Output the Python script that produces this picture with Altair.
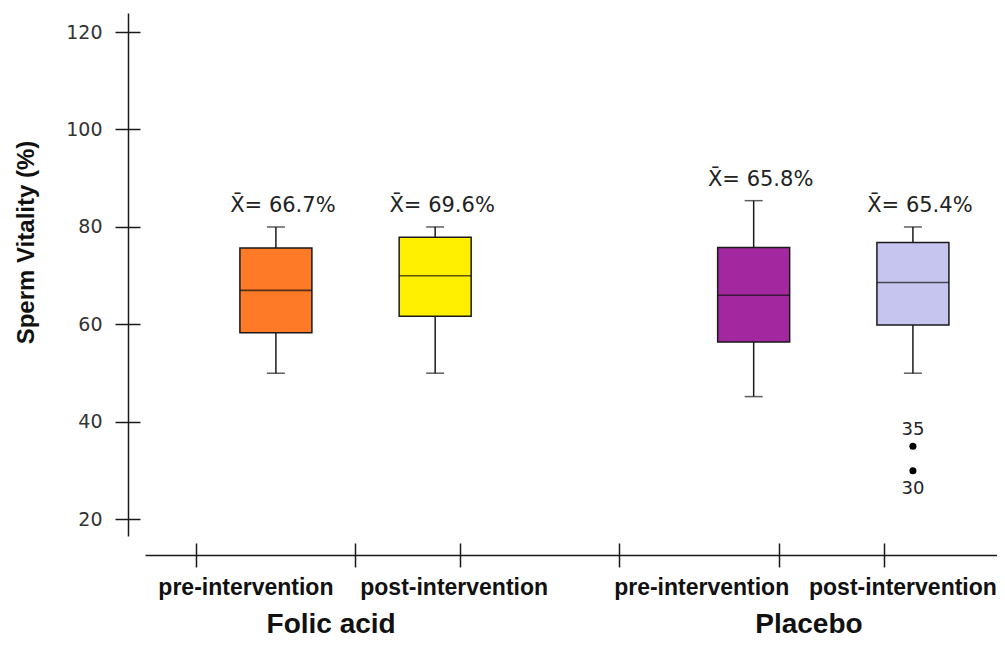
import altair as alt
import pandas as pd

# ---- data ----
groups = ["Folic acid", "Folic acid", "Placebo", "Placebo"]
phases = ["pre-intervention", "post-intervention", "pre-intervention", "post-intervention"]
whisker_low = [50.0, 50.0, 45.2, 50.0]
q1 = [58.3, 61.7, 56.4, 59.9]
median = [67.0, 70.0, 66.0, 68.6]
q3 = [75.7, 77.9, 75.8, 76.8]
whisker_high = [80.0, 80.0, 85.4, 80.0]
means = [66.7, 69.6, 65.8, 65.4]

outlier_group = "Placebo"
outlier_phase = "post-intervention"
outlier_values = [35, 30]
outlier_labels = ["35", "30"]

y_ticks = [20, 40, 60, 80, 100, 120]
y_title = "Sperm Vitality (%)"

# ---- styles ----
fills = ["#FF7A26", "#FFF000", "#A3279F", "#C6C5EF"]
ink = "#1a1a1a"

keys = [f"{g}|{p}" for g, p in zip(groups, phases)]
gap = "gap|"
slots = [keys[0], keys[1], gap, keys[2], keys[3]]

df = pd.DataFrame({
    "slot": keys, "group": groups, "phase": phases,
    "lower": whisker_low, "q1": q1, "median": median, "q3": q3, "upper": whisker_high,
    "mean_label": [f"X\u0304= {m:.1f}%" for m in means],
})
okey = f"{outlier_group}|{outlier_phase}"
odf = pd.DataFrame({"slot": [okey] * len(outlier_values), "value": outlier_values,
                    "label": outlier_labels})
odf["top"] = odf["value"] == odf["value"].max()

xscale = alt.Scale(domain=slots, paddingInner=0, paddingOuter=0.175, align=0.92)
yscale = alt.Scale(domain=[16.6, 123.9], nice=False, zero=False)


def label_axis(value, offset):
    return alt.Axis(orient="bottom", values=[value], labelExpr="split(datum.value, '|')[1]",
                    offset=19, domain=False, ticks=False, grid=False, labelAngle=0,
                    labelFont="Liberation Sans", labelFontWeight="bold", labelFontSize=23,
                    labelColor="#111", labelPadding=21, labelOffset=offset, labelLimit=0,
                    labelOverlap=False, title=None)


def tick_axis(values, band):
    return alt.Axis(orient="bottom", values=values, bandPosition=band, offset=7,
                    domain=False, labels=False, ticks=True, tickSize=24, tickWidth=1.5,
                    tickColor=ink, grid=False, title=None)


axis_x_domain = alt.Axis(orient="bottom", values=[keys[0]],
                         labelExpr="split(datum.value, '|')[1]", offset=19,
                         domain=True, domainColor=ink, domainWidth=1.5, ticks=False,
                         grid=False, labelAngle=0, labelFont="Liberation Sans",
                         labelFontWeight="bold", labelFontSize=23, labelColor="#111",
                         labelPadding=21, labelOffset=-30, labelLimit=0,
                         labelOverlap=False, title=None)

axis_group = alt.Axis(orient="bottom", values=[keys[1], keys[3]],
                      labelExpr="split(datum.value, '|')[0]",
                      offset=19, domain=False, ticks=False, grid=False, labelAngle=0,
                      labelFont="Liberation Sans", labelFontWeight="bold", labelFontSize=28,
                      labelColor="#111", labelPadding=55, labelOffset=-104, labelLimit=0,
                      labelOverlap=False, title=None)

axis_y_left = alt.Axis(orient="left", values=y_ticks, offset=17, domain=True,
                       domainColor=ink, domainWidth=1.5, ticks=True, tickSize=13,
                       tickWidth=1.5, tickColor=ink, grid=False, labelFont="DejaVu Sans",
                       labelFontSize=19, labelColor="#333", labelPadding=13, title=y_title,
                       titleFont="Liberation Sans", titleFontSize=24, titleFontWeight="bold",
                       titleColor="#111", titleAngle=270, titleAlign="center",
                       titleBaseline="middle", titleX=-102, titleY=229)

axis_y_right = alt.Axis(values=y_ticks, orient="right", offset=-869, domain=False,
                        labels=False, ticks=True, tickSize=12, tickWidth=1.5,
                        tickColor=ink, grid=False, title=None)

base = alt.Chart(df)

whiskers = base.mark_rule(color=ink, strokeWidth=1.5).encode(
    x=alt.X("slot:N", scale=xscale, axis=axis_x_domain),
    y=alt.Y("lower:Q", scale=yscale, axis=axis_y_left),
    y2="upper:Q",
)

boxes = base.mark_bar(size=72, stroke=ink, strokeWidth=1.5).encode(
    x=alt.X("slot:N", scale=xscale, axis=label_axis(keys[1], 19)),
    y=alt.Y("q1:Q", scale=yscale, axis=axis_y_right),
    y2="q3:Q",
    color=alt.Color("slot:N", scale=alt.Scale(domain=keys, range=fills), legend=None),
)

medians = base.mark_tick(size=72, thickness=1.6, color="#111").encode(
    x=alt.X("slot:N", scale=xscale, axis=label_axis(keys[2], -52)),
    y=alt.Y("median:Q", scale=yscale, axis=None),
)

caps = base.transform_fold(["lower", "upper"], as_=["end", "yv"]).mark_tick(
    size=18, thickness=1.5, color=ink).encode(
    x=alt.X("slot:N", scale=xscale, axis=label_axis(keys[3], -10)),
    y=alt.Y("yv:Q", scale=yscale, axis=None),
)

mean_text = base.mark_text(font="DejaVu Sans", fontSize=21, color="#222", dy=-21, dx=7,
                           baseline="middle").encode(
    x=alt.X("slot:N", scale=xscale, axis=axis_group),
    y=alt.Y("upper:Q", scale=yscale, axis=None),
    text="mean_label:N",
)

obase = alt.Chart(odf)
opoints = obase.mark_circle(size=50, color="#000", opacity=1).encode(
    x=alt.X("slot:N", scale=xscale, axis=tick_axis([slots[0], slots[1]], 0)),
    y=alt.Y("value:Q", scale=yscale, axis=None),
)
otext_top = obase.transform_filter("datum.top").mark_text(
    font="DejaVu Sans", fontSize=18, color="#222", dy=-16, baseline="middle").encode(
    x=alt.X("slot:N", scale=xscale, axis=tick_axis([slots[1], slots[2], slots[3]], 0.66)),
    y=alt.Y("value:Q", scale=yscale, axis=None),
    text="label:N",
)
otext_bot = obase.transform_filter("!datum.top").mark_text(
    font="DejaVu Sans", fontSize=18, color="#222", dy=18, baseline="middle").encode(
    x=alt.X("slot:N", scale=xscale, axis=tick_axis([slots[4]], 0.32)),
    y=alt.Y("value:Q", scale=yscale, axis=None),
    text="label:N",
)

chart = alt.layer(whiskers, boxes, medians, caps, mean_text, opoints, otext_top, otext_bot
).resolve_scale(x="shared", y="shared").resolve_axis(x="independent", y="independent"
).properties(
    width=852, height=523,
    autosize=alt.AutoSizeParams(type="none"),
    padding={"left": 137, "top": 5, "right": 0, "bottom": 102},
    background="white",
).configure_view(stroke=None)

chart.save("out.html", embed_options={"renderer": "svg", "actions": False})
